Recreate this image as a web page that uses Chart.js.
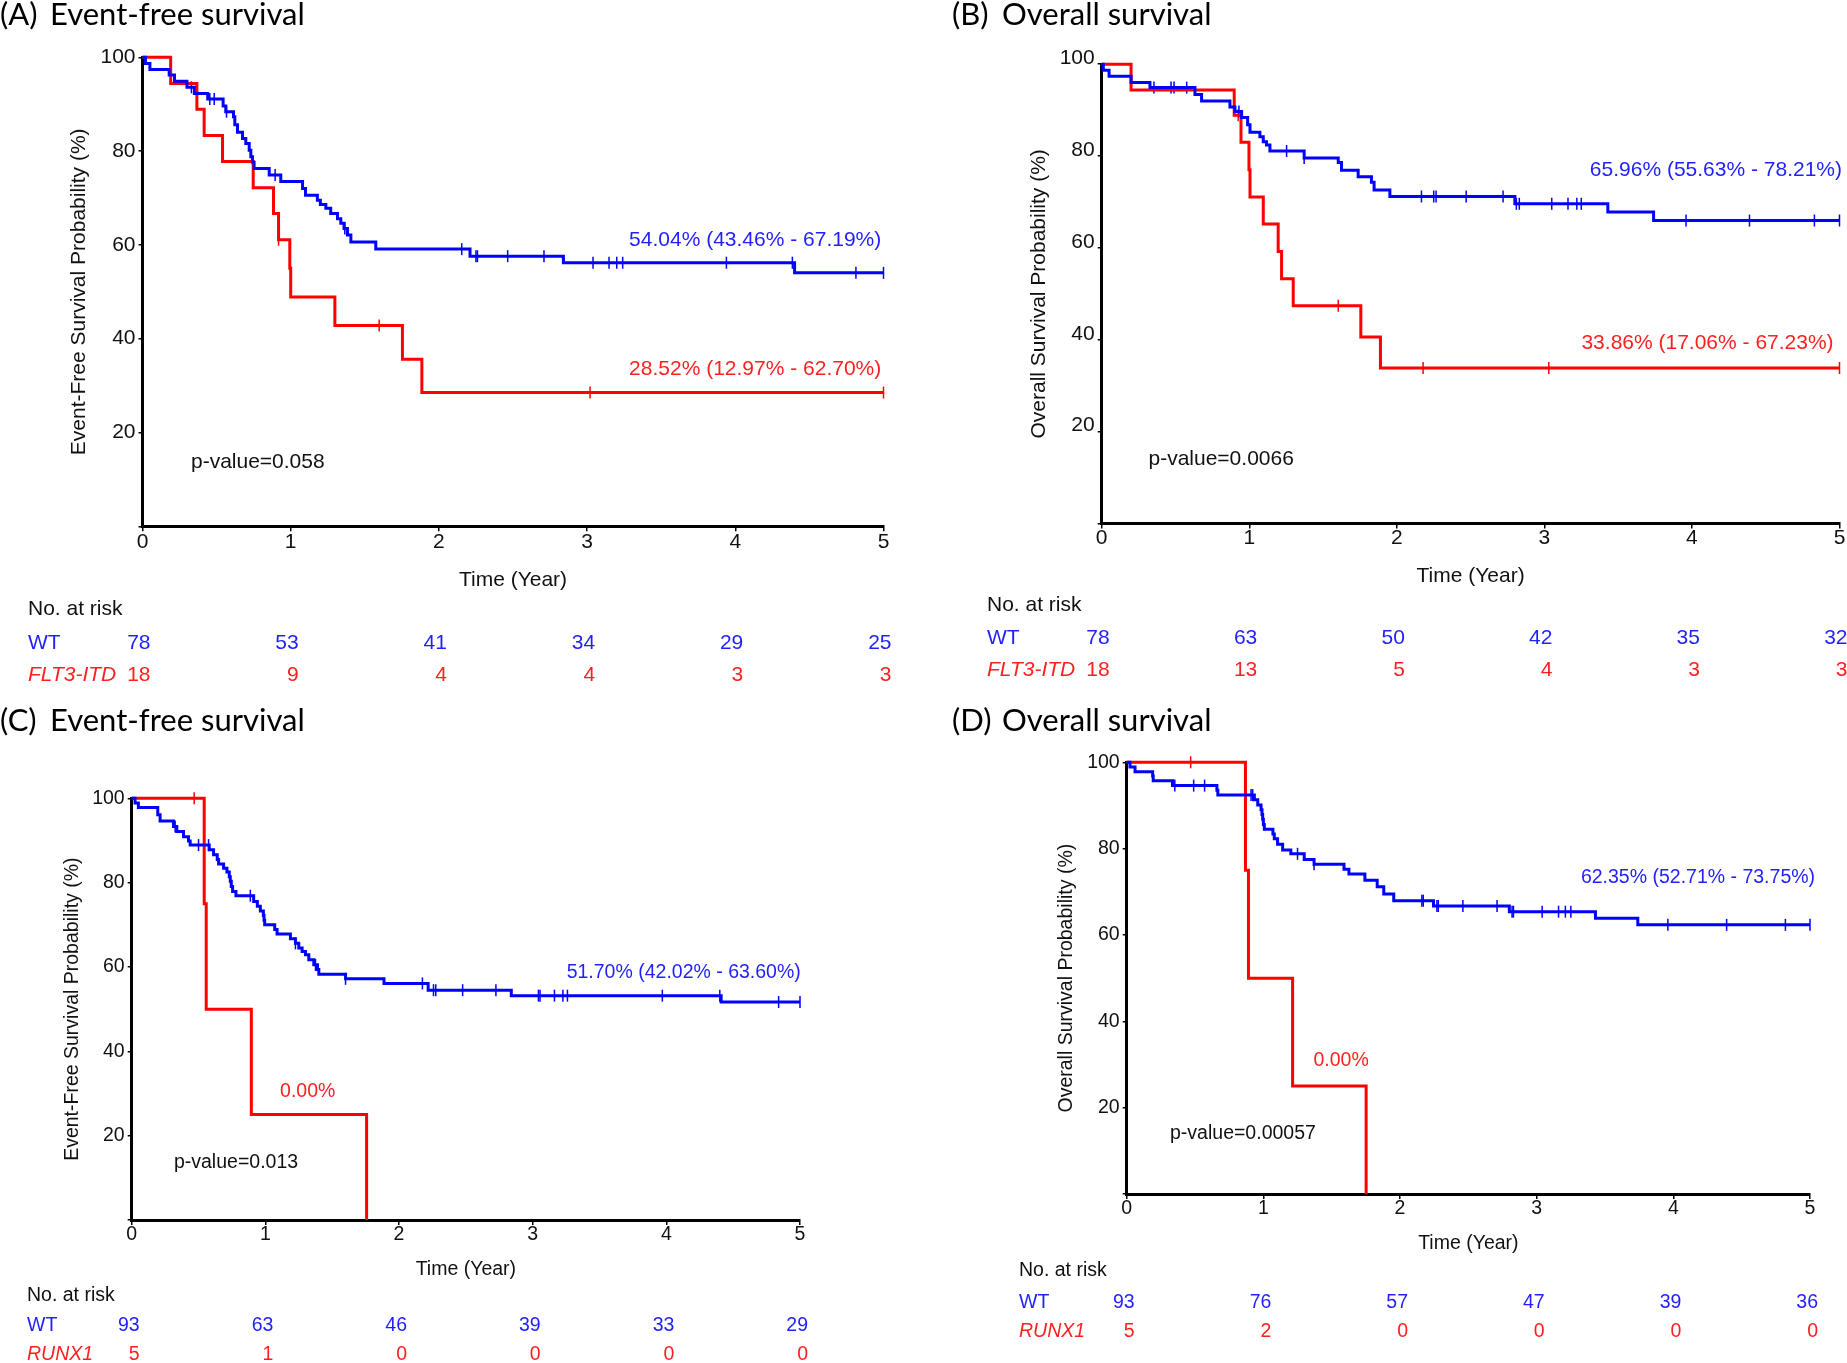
<!DOCTYPE html>
<html>
<head>
<meta charset="utf-8">
<script src="https://cdn.jsdelivr.net/npm/chart.js@4.4.1/dist/chart.umd.min.js"></script>
<style>
  html, body { margin: 0; padding: 0; background: #fff; }
  #wrap { position: relative; width: 1847px; height: 1363px; overflow: hidden; background: #fff; }
  canvas { position: absolute; }
</style>
</head>
<body>
<div id="wrap">
  <canvas id="cvA"></canvas>
  <canvas id="cvB"></canvas>
  <canvas id="cvC"></canvas>
  <canvas id="cvD"></canvas>
</div>
<script>
/* ---- data (time in years, survival in %) ---- */
const YEARS = [0, 1, 2, 3, 4, 5];

// (A) event-free survival, WT vs FLT3-ITD
const aWtTimes = [0.02, 0.05, 0.18, 0.216, 0.30, 0.35, 0.44, 0.544, 0.562, 0.614, 0.623, 0.641, 0.675, 0.697, 0.72, 0.731, 0.742, 0.753, 0.855, 0.933, 1.08, 1.10, 1.18, 1.20, 1.237, 1.27, 1.316, 1.338, 1.36, 1.383, 1.406, 1.574, 2.21, 2.84, 4.40];
const aWtSurv  = [98.7, 97.4, 96.2, 94.9, 93.6, 92.3, 91.1, 89.6, 88.4, 87.3, 85.6, 84.0, 82.7, 81.6, 80.2, 78.8, 77.6, 76.3, 74.9, 73.5, 72.0, 70.6, 69.5, 68.6, 67.8, 66.7, 65.6, 64.6, 63.5, 62.1, 60.6, 59.1, 57.6, 56.2, 54.04];
const aWtCens  = [0.33, 0.454, 0.484, 0.567, 0.895, 1.365, 2.154, 2.25, 2.26, 2.464, 2.709, 3.04, 3.148, 3.2, 3.24, 3.94, 4.385, 4.814, 5.0];
const aItdTimes = [0.19, 0.367, 0.416, 0.54, 0.747, 0.884, 0.918, 0.994, 1.0, 1.298, 1.754, 1.885];
const aItdSurv  = [94.4, 88.9, 83.3, 77.8, 72.2, 66.7, 61.1, 55.0, 48.9, 42.8, 35.6, 28.52];
const aItdCens  = [0.918, 1.597, 3.02, 5.0];
const aRiskWt  = [78, 53, 41, 34, 29, 25];
const aRiskItd = [18, 9, 4, 4, 3, 3];

// (B) overall survival, WT vs FLT3-ITD
const bWtTimes = [0.011, 0.05, 0.199, 0.327, 0.632, 0.677, 0.869, 0.903, 0.948, 0.989, 1.005, 1.072, 1.095, 1.117, 1.14, 1.372, 1.603, 1.625, 1.738, 1.828, 1.846, 1.953, 2.80, 3.43, 3.74];
const bWtSurv  = [98.7, 97.4, 96.0, 94.9, 93.4, 92.0, 90.7, 89.7, 88.4, 86.8, 85.2, 84.2, 83.1, 82.4, 81.1, 79.6, 78.6, 76.9, 75.5, 74.3, 72.6, 71.2, 69.6, 67.8, 65.96];
const bWtCens  = [0.354, 0.47, 0.49, 0.576, 0.93, 1.253, 1.372, 2.167, 2.25, 2.266, 2.47, 2.72, 2.81, 2.83, 3.05, 3.16, 3.22, 3.25, 3.96, 4.39, 4.83, 5.0];
const bItdTimes = [0.199, 0.898, 0.944, 0.998, 1.005, 1.095, 1.196, 1.219, 1.298, 1.756, 1.889];
const bItdSurv  = [94.4, 88.9, 83.0, 77.0, 71.1, 65.2, 59.2, 53.3, 47.4, 40.6, 33.86];
const bItdCens  = [0.925, 1.603, 2.178, 3.03, 5.0];
const bRiskWt  = [78, 63, 50, 42, 35, 32];
const bRiskItd = [18, 13, 5, 4, 3, 3];

// (C) event-free survival, WT vs RUNX1
const cWtTimes = [0.025, 0.05, 0.195, 0.2125, 0.3125, 0.3375, 0.3875, 0.425, 0.4375, 0.58, 0.6125, 0.64, 0.65, 0.6875, 0.7125, 0.73, 0.7375, 0.745, 0.755, 0.78, 0.9125, 0.94, 0.9625, 0.985, 0.99, 0.995, 1.07, 1.0875, 1.1875, 1.225, 1.25, 1.275, 1.30, 1.325, 1.3625, 1.39, 1.40, 1.60, 1.8875, 2.218, 2.84, 4.41];
const cWtSurv  = [98.9, 97.8, 96.1, 94.6, 93.3, 92.1, 90.9, 89.9, 88.9, 87.8, 86.6, 85.5, 84.4, 83.4, 82.5, 81.4, 80.3, 79.1, 77.9, 76.9, 75.5, 74.4, 73.3, 72.2, 71.1, 70.0, 68.9, 67.8, 66.7, 65.6, 64.5, 63.7, 62.9, 61.7, 60.5, 59.4, 58.3, 57.2, 56.1, 54.5, 53.2, 51.70];
const cWtCens  = [0.325, 0.5, 0.575, 0.8875, 1.225, 1.375, 1.6, 2.175, 2.258, 2.275, 2.476, 2.725, 3.043, 3.055, 3.163, 3.226, 3.26, 3.97, 4.4, 4.84, 5.0];
const cRunxTimes = [0.5425, 0.5575, 0.895, 1.7575];
const cRunxSurv  = [75, 50, 25, 0];
const cRunxCens  = [0.4675];
const cRiskWt   = [93, 63, 46, 39, 33, 29];
const cRiskRunx = [5, 1, 0, 0, 0, 0];

// (D) overall survival, WT vs RUNX1
const dWtTimes = [0.024, 0.061, 0.19, 0.194, 0.335, 0.66, 0.667, 0.934, 0.959, 0.983, 0.99, 0.995, 1.0, 1.007, 1.07, 1.08, 1.104, 1.141, 1.201, 1.299, 1.371, 1.59, 1.626, 1.743, 1.833, 1.881, 1.954, 2.245, 2.80, 3.43, 3.74];
const dWtSurv  = [98.9, 97.8, 96.8, 95.7, 94.6, 93.5, 92.4, 91.3, 90.1, 89.0, 87.9, 86.8, 85.6, 84.5, 83.4, 82.3, 81.0, 79.7, 78.8, 77.5, 76.4, 75.2, 74.1, 72.7, 71.2, 69.5, 67.94, 66.7, 65.4, 63.86, 62.35];
const dWtCens  = [0.352, 0.49, 0.57, 0.91, 0.922, 1.25, 1.371, 2.16, 2.17, 2.27, 2.28, 2.46, 2.71, 2.82, 2.83, 3.04, 3.16, 3.21, 3.25, 3.96, 4.39, 4.82, 5.0];
const dRunxTimes = [0.869, 0.891, 1.214, 1.752];
const dRunxSurv  = [75, 50, 25, 0];
const dRunxCens  = [0.468];
const dRiskWt   = [93, 76, 57, 47, 39, 36];
const dRiskRunx = [5, 2, 0, 0, 0, 0];

/* ---- styling ---- */
const FONT = '"Liberation Sans", Arial, sans-serif';
const TITLE_FONT = 'Lato, "Open Sans", sans-serif';
const BLUE = '#0000ff', RED = '#ff0000';
const BLUE_TXT = '#1f1fff', RED_TXT = '#ff1f1f';

function survAt(c, t) {
  let s = 100;
  c.times.forEach((tt, i) => { if (tt <= t) s = c.surv[i]; });
  return s;
}
function kmPoints(c) {
  const pts = [{ x: 0, y: 100 }];
  c.times.forEach((t, i) => pts.push({ x: t, y: c.surv[i] }));
  const last = c.surv[c.surv.length - 1];
  if (last > 0) pts.push({ x: 5, y: last });
  return pts;
}
function stepSet(c, color) {
  return { data: kmPoints(c), borderColor: color, borderWidth: 3, stepped: true,
           pointRadius: 0, fill: false, clip: false };
}
function censSet(c, color) {
  return { data: c.cens.map(t => ({ x: t, y: survAt(c, t) })), showLine: false,
           pointStyle: 'line', rotation: 90, pointRadius: 6, pointBorderWidth: 1.5,
           borderColor: color, backgroundColor: color, clip: false };
}

function drawText(ctx, str, x, y, o) {
  ctx.save();
  ctx.font = (o.italic ? 'italic ' : '') + o.size + 'px ' + (o.family || FONT);
  ctx.fillStyle = o.color || '#111';
  ctx.textBaseline = 'middle';
  ctx.textAlign = o.align || 'left';
  ctx.translate(x, y);
  ctx.scale(o.sx || 1, 1);
  ctx.fillText(str, 0, 0);
  ctx.restore();
}

/* text that is not a mark: panel tag, estimates, p-value, numbers at risk */
function textPlugin(p) {
  return {
    id: 'panelText' + p.id,
    afterDraw(chart) {
      const { ctx, scales: { x, y } } = chart;
      drawText(ctx, p.tag, p.titleX, p.titleY, { size: 31, family: TITLE_FONT, color: '#000' });
      drawText(ctx, p.title, p.titleX + 50, p.titleY, { size: 31, family: TITLE_FONT, color: '#000' });
      p.notes.forEach(n => {
        drawText(ctx, n.text, x.getPixelForValue(n.t), y.getPixelForValue(n.v),
                 { size: p.fs, align: n.align, color: n.color });
      });
      const r = p.risk;
      drawText(ctx, 'No. at risk', r.x, r.yHead, { size: p.fs, color: '#111' });
      drawText(ctx, 'WT', r.x, r.yWt, { size: p.fs, color: BLUE_TXT });
      drawText(ctx, r.mutName, r.x, r.yMut, { size: p.fs, color: RED_TXT, italic: true });
      YEARS.forEach((t, i) => {
        const px = x.getPixelForValue(t) + 8;
        drawText(ctx, String(r.wt[i]), px, r.yWt, { size: p.fs, color: BLUE_TXT, align: 'right' });
        drawText(ctx, String(r.mut[i]), px, r.yMut, { size: p.fs, color: RED_TXT, align: 'right' });
      });
    }
  };
}

const panels = [
  { id: 'cvA', left: 0, top: 0, w: 923, h: 700, fs: 21,
    area: { l: 142.5, t: 57.3, r: 883.5, b: 526.3 }, yTitleX: 79, xTickY: 542, xTitleY: 580,
    yTitle: 'Event-Free Survival Probability (%)', tag: '(A)', title: 'Event-free survival', titleX: 0, titleY: 15,
    wt: { times: aWtTimes, surv: aWtSurv, cens: aWtCens },
    mut: { times: aItdTimes, surv: aItdSurv, cens: aItdCens },
    risk: { x: 28, yHead: 609, yWt: 643, yMut: 675, wt: aRiskWt, mut: aRiskItd, mutName: 'FLT3-ITD' },
    notes: [
      { text: '54.04% (43.46% - 67.19%)', t: 4.985, v: 61.0, align: 'right', color: BLUE_TXT },
      { text: '28.52% (12.97% - 62.70%)', t: 4.985, v: 33.5, align: 'right', color: RED_TXT },
      { text: 'p-value=0.058', t: 0.327, v: 13.7, align: 'left', color: '#111' }
    ] },
  { id: 'cvB', left: 923, top: 0, w: 924, h: 700, fs: 21, yLabelOffset: -6,
    area: { l: 178.7, t: 64.2, r: 918, b: 523.5 }, yTitleX: 116, xTickY: 538, xTitleY: 576,
    yTitle: 'Overall Survival Probability (%)', tag: '(B)', title: 'Overall survival', titleX: 29, titleY: 15,
    wt: { times: bWtTimes, surv: bWtSurv, cens: bWtCens },
    mut: { times: bItdTimes, surv: bItdSurv, cens: bItdCens },
    risk: { x: 64, yHead: 605, yWt: 638.5, yMut: 670, wt: bRiskWt, mut: bRiskItd, mutName: 'FLT3-ITD' },
    notes: [
      { text: '65.96% (55.63% - 78.21%)', t: 5.017, v: 77.0, align: 'right', color: BLUE_TXT },
      { text: '33.86% (17.06% - 67.23%)', t: 4.96, v: 39.3, align: 'right', color: RED_TXT },
      { text: 'p-value=0.0066', t: 0.317, v: 14.0, align: 'left', color: '#111' }
    ] },
  { id: 'cvC', left: 0, top: 700, w: 923, h: 663, fs: 19.5,
    area: { l: 131.7, t: 98.3, r: 800, b: 520 }, yTitleX: 73, xTickY: 534.5, xTitleY: 570,
    yTitle: 'Event-Free Survival Probability (%)', tag: '(C)', title: 'Event-free survival', titleX: 0, titleY: 21,
    wt: { times: cWtTimes, surv: cWtSurv, cens: cWtCens },
    mut: { times: cRunxTimes, surv: cRunxSurv, cens: cRunxCens },
    risk: { x: 27, yHead: 596, yWt: 626, yMut: 655, wt: cRiskWt, mut: cRiskRunx, mutName: 'RUNX1' },
    notes: [
      { text: '51.70% (42.02% - 63.60%)', t: 5.006, v: 58.6, align: 'right', color: BLUE_TXT },
      { text: '0.00%', t: 1.11, v: 30.4, align: 'left', color: RED_TXT },
      { text: 'p-value=0.013', t: 0.316, v: 13.5, align: 'left', color: '#111' }
    ] },
  { id: 'cvD', left: 923, top: 700, w: 924, h: 663, fs: 19.5,
    area: { l: 203.7, t: 62.3, r: 887, b: 494 }, yTitleX: 144, xTickY: 508.6, xTitleY: 544,
    yTitle: 'Overall Survival Probability (%)', tag: '(D)', title: 'Overall survival', titleX: 29, titleY: 21,
    wt: { times: dWtTimes, surv: dWtSurv, cens: dWtCens },
    mut: { times: dRunxTimes, surv: dRunxSurv, cens: dRunxCens },
    risk: { x: 96, yHead: 571, yWt: 603, yMut: 632, wt: dRiskWt, mut: dRiskRunx, mutName: 'RUNX1' },
    notes: [
      { text: '62.35% (52.71% - 73.75%)', t: 5.037, v: 73.3, align: 'right', color: BLUE_TXT },
      { text: '0.00%', t: 1.367, v: 30.8, align: 'left', color: RED_TXT },
      { text: 'p-value=0.00057', t: 0.317, v: 13.9, align: 'left', color: '#111' }
    ] }
];

function buildPanel(p) {
  const cv = document.getElementById(p.id);
  cv.width = p.w; cv.height = p.h;
  cv.style.left = p.left + 'px'; cv.style.top = p.top + 'px';
  cv.style.width = p.w + 'px'; cv.style.height = p.h + 'px';
  const fs = p.fs, lh = 1.2 * fs, xH = 80;
  return new Chart(cv, {
    type: 'line',
    data: { datasets: [stepSet(p.wt, BLUE), stepSet(p.mut, RED), censSet(p.wt, BLUE), censSet(p.mut, RED)] },
    options: {
      responsive: false, animation: false, devicePixelRatio: 1, events: [],
      layout: { padding: { left: 0, top: p.area.t, right: p.w - p.area.r, bottom: p.h - p.area.b - xH } },
      plugins: { legend: { display: false }, tooltip: { enabled: false } },
      scales: {
        x: { type: 'linear', min: 0, max: 5,
             afterFit: s => { s.height = xH; },
             ticks: { stepSize: 1, color: '#111', maxRotation: 0, autoSkip: false,
                      font: { family: FONT, size: fs, lineHeight: 1 },
                      padding: p.xTickY - p.area.b - 5 - fs / 2 },
             grid: { drawOnChartArea: false, drawTicks: true, tickLength: 5, color: '#000', lineWidth: 1.5 },
             border: { color: '#000', width: 3 },
             title: { display: true, text: 'Time (Year)', color: '#111',
                      font: { family: FONT, size: fs, lineHeight: 1.2 },
                      padding: { top: 0, bottom: p.area.b + xH - p.xTitleY - lh / 2 } } },
        y: { min: 0, max: 100,
             afterFit: s => { s.width = p.area.l; },
             ticks: { stepSize: 20, color: '#111', padding: 3, labelOffset: p.yLabelOffset || 0,
                      font: { family: FONT, size: fs },
                      callback: v => (v === 0 ? '' : v) },
             grid: { drawOnChartArea: false, tickLength: 4, color: '#000', lineWidth: 1.5 },
             border: { color: '#000', width: 3 },
             title: { display: true, text: p.yTitle, color: '#111',
                      font: { family: FONT, size: fs, lineHeight: 1.2 },
                      padding: { top: p.yTitleX - lh / 2, bottom: 0 } } }
      }
    },
    plugins: [textPlugin(p)]
  });
}

panels.forEach(buildPanel);
</script>
</body>
</html>
